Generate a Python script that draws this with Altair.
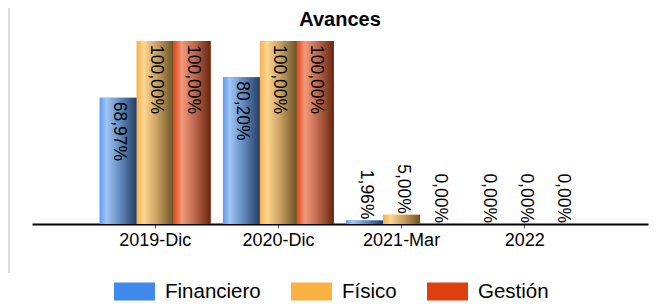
import altair as alt
import pandas as pd

categories = ["2019-Dic", "2020-Dic", "2021-Mar", "2022"]
series_names = ["Financiero", "Físico", "Gestión"]
financiero = [68.97, 80.20, 1.96, 0.00]
fisico = [100.00, 100.00, 5.00, 0.00]
gestion = [100.00, 100.00, 0.00, 0.00]
legend_colors = ["#4189ec", "#fbb243", "#de3f0e"]

gradients = {
    "Financiero": [("#5f9bea", 0), ("#a0c6f6", 0.18), ("#6a93c8", 0.5), ("#243d63", 1)],
    "Físico": [("#f5b24e", 0), ("#fdd690", 0.2), ("#c9a060", 0.55), ("#6a5226", 1)],
    "Gestión": [("#e2461c", 0), ("#f19a7a", 0.22), ("#c06a50", 0.55), ("#68260f", 1)],
}

rows = []
for name, vals in zip(series_names, [financiero, fisico, gestion]):
    for cat, v in zip(categories, vals):
        rows.append({
            "periodo": cat,
            "serie": name,
            "valor": v,
            "label": f"{v:.2f}".replace(".", ",") + "%",
        })
df = pd.DataFrame(rows)

FONT = "Liberation Sans"

x_enc = alt.X(
    "periodo:N",
    sort=categories,
    scale=alt.Scale(paddingInner=0.1, paddingOuter=0.55),
    axis=alt.Axis(
        title=None,
        labelAngle=0,
        labelFontSize=18,
        labelColor="#000000",
        labelFont=FONT,
        labelPadding=3,
        domainColor="#000000",
        domainWidth=2,
        tickColor="#555555",
        tickSize=4,
        grid=False,
    ),
)
xo_enc = alt.XOffset("serie:N", scale=alt.Scale(domain=series_names))
y_enc = alt.Y("valor:Q", scale=alt.Scale(domain=[0, 100]), axis=None)

base = alt.Chart(df)

legend_bars = base.mark_bar().encode(
    x=x_enc,
    xOffset=xo_enc,
    y=y_enc,
    color=alt.Color(
        "serie:N",
        scale=alt.Scale(domain=series_names, range=legend_colors),
        legend=alt.Legend(
            title=None,
            orient="none",
            legendX=82,
            legendY=230,
            direction="horizontal",
            symbolType="M-1,-0.44L1,-0.44L1,0.44L-1,0.44Z",
            symbolSize=1681,
            symbolStrokeWidth=0,
            labelFontSize=20.5,
            labelFont=FONT,
            labelColor="#000000",
            labelOffset=10,
            columnPadding=30,
        ),
    ),
)

layers = [legend_bars]
for name in series_names:
    stops = [alt.GradientStop(color=c, offset=o) for c, o in gradients[name]]
    grad = alt.Gradient(gradient="linear", stops=stops, x1=0, x2=1, y1=0, y2=0)
    layers.append(
        base.transform_filter(alt.datum.serie == name)
        .mark_bar(fill=grad)
        .encode(x=x_enc, xOffset=xo_enc, y=y_enc)
    )

inside = base.transform_filter(alt.datum.valor >= 30).mark_text(
    angle=90, align="left", baseline="middle", dx=4, dy=-1,
    fontSize=17.5, font=FONT, color="#000000",
).encode(x=x_enc, xOffset=xo_enc, y=y_enc, text="label:N")

outside = base.transform_filter(alt.datum.valor < 30).mark_text(
    angle=90, align="right", baseline="middle", dx=-1, dy=-1,
    fontSize=17.5, font=FONT, color="#000000",
).encode(x=x_enc, xOffset=xo_enc, y=y_enc, text="label:N")

border = alt.Chart(pd.DataFrame({"a": [0]})).mark_rule(
    color="#dcdcdc", strokeWidth=2
).encode(x=alt.value(-23), y=alt.value(-41), y2=alt.value(232))

chart = alt.layer(*layers, inside, outside, border).properties(
    width=616,
    height=183,
    title=alt.TitleParams(
        "Avances", fontSize=20, font=FONT, fontWeight="bold",
        color="#000000", anchor="middle", offset=14, dy=45,
    ),
    autosize=alt.AutoSizeParams(type="none"),
    padding={"left": 24, "top": 33, "right": 6, "bottom": 80},
).configure_view(stroke=None)

chart.save("out.html", embed_options={"renderer": "svg", "actions": False})
